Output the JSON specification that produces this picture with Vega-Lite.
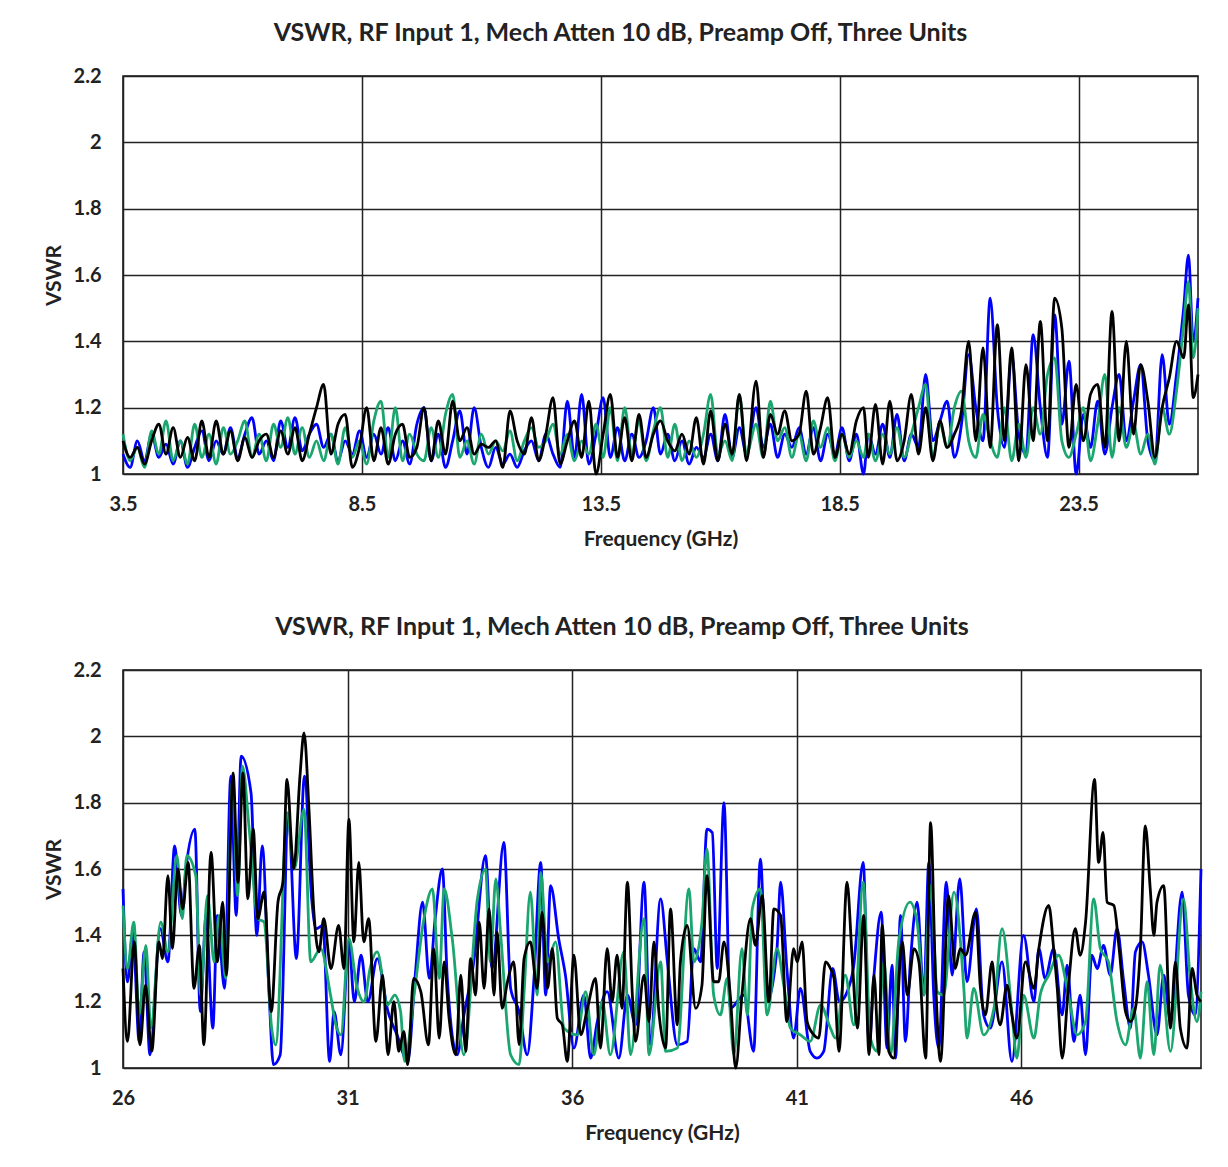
{
"$schema":"https://vega.github.io/schema/vega-lite/v6.json",
"background":"white",
"padding":{"left":42,"top":20,"right":5,"bottom":5},
"spacing":64,
"config":{
"font":"Lato",
"view":{"stroke":"#111","strokeWidth":1.5},
"axis":{"labelFont":"Lato","labelFontWeight":"bold","labelFontSize":20,"labelColor":"#222","labelFlush":false,"titleFont":"Lato","titleFontWeight":"bold","titleFontSize":21,"titleColor":"#222","grid":true,"gridColor":"#222","gridWidth":1.5,"gridOpacity":1,"ticks":false,"domain":false},
"title":{"font":"Lato","fontWeight":"bold","fontSize":25,"color":"#222"},
"line":{"strokeWidth":2.8,"interpolate":"monotone","clip":true}
},
"datasets":{
"top":[
{"f":3.5,"b":1.06,"g":1.12,"k":1.1},{"f":3.65,"b":1.02,"g":1.04,"k":1.05},{"f":3.8,"b":1.1,"g":1.08,"k":1.08},{"f":3.95,"b":1.04,"g":1.02,"k":1.03},{"f":4.1,"b":1.12,"g":1.13,"k":1.1},{"f":4.25,"b":1.05,"g":1.06,"k":1.15},{"f":4.4,"b":1.09,"g":1.16,"k":1.06},{"f":4.55,"b":1.03,"g":1.04,"k":1.14},{"f":4.7,"b":1.1,"g":1.1,"k":1.05},{"f":4.85,"b":1.02,"g":1.03,"k":1.11},
{"f":5.0,"b":1.08,"g":1.15,"k":1.04},{"f":5.15,"b":1.13,"g":1.05,"k":1.16},{"f":5.3,"b":1.04,"g":1.12,"k":1.05},{"f":5.45,"b":1.1,"g":1.03,"k":1.16},{"f":5.6,"b":1.06,"g":1.14,"k":1.06},{"f":5.75,"b":1.14,"g":1.06,"k":1.13},{"f":5.9,"b":1.05,"g":1.1,"k":1.04},{"f":6.05,"b":1.12,"g":1.16,"k":1.11},{"f":6.2,"b":1.17,"g":1.05,"k":1.05},{"f":6.35,"b":1.06,"g":1.12,"k":1.1},
{"f":6.5,"b":1.1,"g":1.04,"k":1.12},{"f":6.65,"b":1.04,"g":1.15,"k":1.05},{"f":6.8,"b":1.16,"g":1.08,"k":1.13},{"f":6.95,"b":1.08,"g":1.17,"k":1.06},{"f":7.1,"b":1.17,"g":1.06,"k":1.14},{"f":7.25,"b":1.07,"g":1.14,"k":1.04},{"f":7.4,"b":1.12,"g":1.05,"k":1.12},{"f":7.55,"b":1.15,"g":1.1,"k":1.2},{"f":7.7,"b":1.08,"g":1.04,"k":1.27},{"f":7.85,"b":1.12,"g":1.12,"k":1.06},
{"f":8.0,"b":1.04,"g":1.03,"k":1.15},{"f":8.15,"b":1.1,"g":1.14,"k":1.18},{"f":8.3,"b":1.06,"g":1.05,"k":1.02},{"f":8.45,"b":1.13,"g":1.1,"k":1.08},{"f":8.6,"b":1.05,"g":1.03,"k":1.2},{"f":8.75,"b":1.12,"g":1.16,"k":1.04},{"f":8.9,"b":1.06,"g":1.22,"k":1.14},{"f":9.05,"b":1.14,"g":1.05,"k":1.03},{"f":9.2,"b":1.04,"g":1.2,"k":1.12},{"f":9.35,"b":1.1,"g":1.04,"k":1.15},
{"f":9.5,"b":1.03,"g":1.12,"k":1.05},{"f":9.65,"b":1.15,"g":1.06,"k":1.08},{"f":9.8,"b":1.2,"g":1.04,"k":1.2},{"f":9.95,"b":1.04,"g":1.14,"k":1.04},{"f":10.1,"b":1.12,"g":1.05,"k":1.16},{"f":10.25,"b":1.02,"g":1.18,"k":1.06},{"f":10.4,"b":1.1,"g":1.24,"k":1.22},{"f":10.55,"b":1.19,"g":1.05,"k":1.1},{"f":10.7,"b":1.06,"g":1.1,"k":1.14},{"f":10.85,"b":1.2,"g":1.03,"k":1.06},
{"f":11.0,"b":1.08,"g":1.12,"k":1.09},{"f":11.15,"b":1.02,"g":1.06,"k":1.08},{"f":11.3,"b":1.08,"g":1.1,"k":1.1},{"f":11.45,"b":1.03,"g":1.07,"k":1.02},{"f":11.6,"b":1.06,"g":1.13,"k":1.19},{"f":11.75,"b":1.02,"g":1.04,"k":1.1},{"f":11.9,"b":1.07,"g":1.1,"k":1.06},{"f":12.05,"b":1.1,"g":1.14,"k":1.17},{"f":12.2,"b":1.04,"g":1.08,"k":1.04},{"f":12.35,"b":1.12,"g":1.1,"k":1.12},
{"f":12.5,"b":1.06,"g":1.15,"k":1.23},{"f":12.65,"b":1.02,"g":1.06,"k":1.03},{"f":12.8,"b":1.22,"g":1.12,"k":1.1},{"f":12.95,"b":1.05,"g":1.04,"k":1.16},{"f":13.1,"b":1.24,"g":1.1,"k":1.05},{"f":13.25,"b":1.03,"g":1.06,"k":1.22},{"f":13.4,"b":1.12,"g":1.15,"k":1.0},{"f":13.55,"b":1.23,"g":1.05,"k":1.12},{"f":13.7,"b":1.05,"g":1.2,"k":1.24},{"f":13.85,"b":1.14,"g":1.04,"k":1.05},
{"f":14.0,"b":1.04,"g":1.2,"k":1.17},{"f":14.15,"b":1.12,"g":1.06,"k":1.04},{"f":14.3,"b":1.05,"g":1.16,"k":1.18},{"f":14.45,"b":1.1,"g":1.04,"k":1.05},{"f":14.6,"b":1.2,"g":1.13,"k":1.12},{"f":14.75,"b":1.06,"g":1.2,"k":1.16},{"f":14.9,"b":1.12,"g":1.05,"k":1.1},{"f":15.05,"b":1.04,"g":1.15,"k":1.07},{"f":15.2,"b":1.1,"g":1.04,"k":1.12},{"f":15.35,"b":1.03,"g":1.1,"k":1.06},
{"f":15.5,"b":1.08,"g":1.05,"k":1.17},{"f":15.65,"b":1.05,"g":1.12,"k":1.03},{"f":15.8,"b":1.12,"g":1.24,"k":1.19},{"f":15.95,"b":1.04,"g":1.06,"k":1.04},{"f":16.1,"b":1.18,"g":1.1,"k":1.15},{"f":16.25,"b":1.05,"g":1.04,"k":1.06},{"f":16.4,"b":1.14,"g":1.24,"k":1.24},{"f":16.55,"b":1.06,"g":1.06,"k":1.04},{"f":16.75,"b":1.2,"g":1.15,"k":1.28},{"f":16.9,"b":1.08,"g":1.05,"k":1.05},
{"f":17.05,"b":1.15,"g":1.22,"k":1.18},{"f":17.2,"b":1.05,"g":1.1,"k":1.12},{"f":17.35,"b":1.12,"g":1.14,"k":1.19},{"f":17.5,"b":1.08,"g":1.05,"k":1.1},{"f":17.65,"b":1.14,"g":1.12,"k":1.12},{"f":17.8,"b":1.06,"g":1.04,"k":1.25},{"f":17.95,"b":1.14,"g":1.16,"k":1.06},{"f":18.1,"b":1.04,"g":1.08,"k":1.14},{"f":18.25,"b":1.12,"g":1.14,"k":1.23},{"f":18.4,"b":1.06,"g":1.04,"k":1.05},
{"f":18.55,"b":1.14,"g":1.12,"k":1.12},{"f":18.7,"b":1.04,"g":1.05,"k":1.06},{"f":18.85,"b":1.12,"g":1.1,"k":1.16},{"f":19.0,"b":1.0,"g":1.05,"k":1.2},{"f":19.1,"b":1.12,"g":1.12,"k":1.05},{"f":19.25,"b":1.06,"g":1.04,"k":1.21},{"f":19.4,"b":1.15,"g":1.12,"k":1.03},{"f":19.55,"b":1.05,"g":1.06,"k":1.22},{"f":19.7,"b":1.18,"g":1.14,"k":1.04},{"f":19.85,"b":1.04,"g":1.05,"k":1.1},
{"f":20.0,"b":1.12,"g":1.12,"k":1.24},{"f":20.15,"b":1.08,"g":1.2,"k":1.06},{"f":20.3,"b":1.3,"g":1.27,"k":1.2},{"f":20.45,"b":1.1,"g":1.05,"k":1.04},{"f":20.6,"b":1.16,"g":1.15,"k":1.16},{"f":20.75,"b":1.22,"g":1.08,"k":1.08},{"f":20.9,"b":1.05,"g":1.2,"k":1.12},{"f":21.05,"b":1.15,"g":1.25,"k":1.19},{"f":21.2,"b":1.36,"g":1.1,"k":1.4},{"f":21.35,"b":1.2,"g":1.05,"k":1.1},
{"f":21.5,"b":1.1,"g":1.18,"k":1.38},{"f":21.65,"b":1.53,"g":1.1,"k":1.08},{"f":21.8,"b":1.2,"g":1.05,"k":1.45},{"f":21.95,"b":1.08,"g":1.2,"k":1.1},{"f":22.1,"b":1.36,"g":1.04,"k":1.38},{"f":22.25,"b":1.12,"g":1.15,"k":1.04},{"f":22.4,"b":1.06,"g":1.05,"k":1.33},{"f":22.55,"b":1.42,"g":1.2,"k":1.1},{"f":22.7,"b":1.2,"g":1.12,"k":1.46},{"f":22.85,"b":1.05,"g":1.3,"k":1.1},
{"f":23.0,"b":1.48,"g":1.35,"k":1.53},{"f":23.15,"b":1.15,"g":1.1,"k":1.44},{"f":23.3,"b":1.34,"g":1.05,"k":1.08},{"f":23.45,"b":1.0,"g":1.12,"k":1.27},{"f":23.6,"b":1.18,"g":1.2,"k":1.1},{"f":23.75,"b":1.08,"g":1.04,"k":1.24},{"f":23.9,"b":1.22,"g":1.15,"k":1.27},{"f":24.05,"b":1.06,"g":1.3,"k":1.08},{"f":24.2,"b":1.2,"g":1.05,"k":1.49},{"f":24.35,"b":1.3,"g":1.2,"k":1.1},
{"f":24.5,"b":1.1,"g":1.08,"k":1.4},{"f":24.65,"b":1.22,"g":1.15,"k":1.12},{"f":24.8,"b":1.33,"g":1.06,"k":1.33},{"f":24.95,"b":1.1,"g":1.12,"k":1.22},{"f":25.1,"b":1.04,"g":1.03,"k":1.05},{"f":25.25,"b":1.36,"g":1.2,"k":1.2},{"f":25.4,"b":1.15,"g":1.12,"k":1.29},{"f":25.55,"b":1.3,"g":1.25,"k":1.4},{"f":25.7,"b":1.5,"g":1.45,"k":1.35},{"f":25.8,"b":1.66,"g":1.58,"k":1.51},
{"f":25.9,"b":1.4,"g":1.35,"k":1.23},{"f":26.0,"b":1.53,"g":1.5,"k":1.3}
],
"bb":[
{"f":26.0,"v":1.54},{"f":26.1,"v":1.26},{"f":26.22,"v":1.41},{"f":26.36,"v":1.08},{"f":26.47,"v":1.35},{"f":26.6,"v":1.04},{"f":26.83,"v":1.42},{"f":27.0,"v":1.32},{"f":27.15,"v":1.67},{"f":27.3,"v":1.46},{"f":27.4,"v":1.6},{"f":27.6,"v":1.72},{"f":27.72,"v":1.17},{"f":27.85,"v":1.46},{"f":28.0,"v":1.12},{"f":28.1,"v":1.46},{"f":28.26,"v":1.24},{"f":28.4,"v":1.88},{"f":28.52,"v":1.46},{"f":28.63,"v":1.94},{"f":28.85,"v":1.83},{"f":28.98,"v":1.4},{"f":29.1,"v":1.67},{"f":29.25,"v":1.23},{"f":29.35,"v":1.01},{"f":29.5,"v":1.04},{"f":29.68,"v":1.76},{"f":29.86,"v":1.33},{"f":30.04,"v":1.88},{"f":30.2,"v":1.51},{"f":30.3,"v":1.42},{"f":30.45,"v":1.43},{"f":30.6,"v":1.02},{"f":30.7,"v":1.17},{"f":30.85,"v":1.04},{"f":31.03,"v":1.38},{"f":31.15,"v":1.2},{"f":31.3,"v":1.34},{"f":31.45,"v":1.2},{"f":31.66,"v":1.33},{"f":31.9,"v":1.17},{"f":32.1,"v":1.1},{"f":32.34,"v":1.02},{"f":32.5,"v":1.27},{"f":32.67,"v":1.5},{"f":32.82,"v":1.27},{"f":32.95,"v":1.45},{"f":33.11,"v":1.6},{"f":33.22,"v":1.27},{"f":33.44,"v":1.04},{"f":33.59,"v":1.16},{"f":33.81,"v":1.32},{"f":34.07,"v":1.64},{"f":34.22,"v":1.3},{"f":34.48,"v":1.68},{"f":34.63,"v":1.24},{"f":34.82,"v":1.17},{"f":35.0,"v":1.04},{"f":35.15,"v":1.27},{"f":35.3,"v":1.62},{"f":35.41,"v":1.22},{"f":35.52,"v":1.55},{"f":35.7,"v":1.39},{"f":35.85,"v":1.28},{"f":36.04,"v":1.06},{"f":36.26,"v":1.22},{"f":36.41,"v":1.03},{"f":36.56,"v":1.14},{"f":36.78,"v":1.23},{"f":37.04,"v":1.03},{"f":37.23,"v":1.22},{"f":37.41,"v":1.13},{"f":37.6,"v":1.56},{"f":37.74,"v":1.07},{"f":37.97,"v":1.51},{"f":38.12,"v":1.32},{"f":38.34,"v":1.07},{"f":38.56,"v":1.08},{"f":38.71,"v":1.36},{"f":38.86,"v":1.32},{"f":39.0,"v":1.72},{"f":39.12,"v":1.71},{"f":39.23,"v":1.3},{"f":39.38,"v":1.8},{"f":39.52,"v":1.18},{"f":39.82,"v":1.22},{"f":40.04,"v":1.05},{"f":40.19,"v":1.63},{"f":40.34,"v":1.2},{"f":40.56,"v":1.36},{"f":40.64,"v":1.56},{"f":40.78,"v":1.3},{"f":40.93,"v":1.09},{"f":41.08,"v":1.24},{"f":41.3,"v":1.05},{"f":41.45,"v":1.03},{"f":41.6,"v":1.05},{"f":41.8,"v":1.3},{"f":41.95,"v":1.2},{"f":42.09,"v":1.22},{"f":42.27,"v":1.31},{"f":42.48,"v":1.62},{"f":42.61,"v":1.07},{"f":42.72,"v":1.28},{"f":42.88,"v":1.47},{"f":43.01,"v":1.06},{"f":43.12,"v":1.31},{"f":43.2,"v":1.03},{"f":43.31,"v":1.46},{"f":43.42,"v":1.08},{"f":43.53,"v":1.32},{"f":43.68,"v":1.5},{"f":43.83,"v":1.22},{"f":43.94,"v":1.62},{"f":44.05,"v":1.22},{"f":44.16,"v":1.06},{"f":44.33,"v":1.56},{"f":44.46,"v":1.28},{"f":44.63,"v":1.57},{"f":44.79,"v":1.26},{"f":45.0,"v":1.48},{"f":45.16,"v":1.16},{"f":45.31,"v":1.12},{"f":45.57,"v":1.32},{"f":45.79,"v":1.02},{"f":46.05,"v":1.4},{"f":46.28,"v":1.2},{"f":46.39,"v":1.36},{"f":46.53,"v":1.27},{"f":46.72,"v":1.36},{"f":46.91,"v":1.16},{"f":47.02,"v":1.31},{"f":47.17,"v":1.08},{"f":47.31,"v":1.22},{"f":47.43,"v":1.04},{"f":47.57,"v":1.34},{"f":47.69,"v":1.3},{"f":47.83,"v":1.37},{"f":47.98,"v":1.28},{"f":48.13,"v":1.42},{"f":48.28,"v":1.26},{"f":48.43,"v":1.12},{"f":48.54,"v":1.35},{"f":48.69,"v":1.38},{"f":48.83,"v":1.28},{"f":49.02,"v":1.1},{"f":49.17,"v":1.28},{"f":49.32,"v":1.14},{"f":49.58,"v":1.53},{"f":49.72,"v":1.22},{"f":49.87,"v":1.16},{"f":50.0,"v":1.6}
],
"bg":[
{"f":26.0,"v":1.49},{"f":26.1,"v":1.3},{"f":26.24,"v":1.44},{"f":26.36,"v":1.16},{"f":26.51,"v":1.37},{"f":26.62,"v":1.12},{"f":26.84,"v":1.44},{"f":27.0,"v":1.35},{"f":27.2,"v":1.64},{"f":27.32,"v":1.45},{"f":27.42,"v":1.64},{"f":27.62,"v":1.58},{"f":27.73,"v":1.22},{"f":27.88,"v":1.52},{"f":28.03,"v":1.32},{"f":28.14,"v":1.46},{"f":28.29,"v":1.27},{"f":28.44,"v":1.87},{"f":28.55,"v":1.52},{"f":28.66,"v":1.91},{"f":28.81,"v":1.72},{"f":29.0,"v":1.45},{"f":29.14,"v":1.44},{"f":29.31,"v":1.12},{"f":29.4,"v":1.07},{"f":29.66,"v":1.77},{"f":29.81,"v":1.6},{"f":30.03,"v":1.78},{"f":30.18,"v":1.32},{"f":30.4,"v":1.36},{"f":30.62,"v":1.22},{"f":30.74,"v":1.13},{"f":30.85,"v":1.1},{"f":31.03,"v":1.39},{"f":31.2,"v":1.25},{"f":31.37,"v":1.2},{"f":31.5,"v":1.3},{"f":31.66,"v":1.35},{"f":31.89,"v":1.19},{"f":32.05,"v":1.22},{"f":32.18,"v":1.17},{"f":32.27,"v":1.02},{"f":32.48,"v":1.22},{"f":32.7,"v":1.45},{"f":32.89,"v":1.54},{"f":33.04,"v":1.27},{"f":33.15,"v":1.54},{"f":33.33,"v":1.39},{"f":33.59,"v":1.04},{"f":33.89,"v":1.51},{"f":34.07,"v":1.6},{"f":34.18,"v":1.32},{"f":34.3,"v":1.57},{"f":34.41,"v":1.4},{"f":34.63,"v":1.04},{"f":34.82,"v":1.01},{"f":34.93,"v":1.23},{"f":35.07,"v":1.53},{"f":35.22,"v":1.22},{"f":35.3,"v":1.59},{"f":35.45,"v":1.32},{"f":35.63,"v":1.38},{"f":35.82,"v":1.12},{"f":36.11,"v":1.1},{"f":36.3,"v":1.23},{"f":36.48,"v":1.04},{"f":36.67,"v":1.2},{"f":36.85,"v":1.04},{"f":37.15,"v":1.35},{"f":37.3,"v":1.04},{"f":37.6,"v":1.45},{"f":37.71,"v":1.04},{"f":37.97,"v":1.32},{"f":38.08,"v":1.05},{"f":38.34,"v":1.06},{"f":38.6,"v":1.54},{"f":38.71,"v":1.32},{"f":38.89,"v":1.44},{"f":39.0,"v":1.66},{"f":39.15,"v":1.22},{"f":39.3,"v":1.16},{"f":39.45,"v":1.27},{"f":39.6,"v":1.04},{"f":39.78,"v":1.36},{"f":39.9,"v":1.16},{"f":40.01,"v":1.48},{"f":40.19,"v":1.54},{"f":40.34,"v":1.16},{"f":40.56,"v":1.36},{"f":40.71,"v":1.25},{"f":40.86,"v":1.12},{"f":41.08,"v":1.1},{"f":41.3,"v":1.08},{"f":41.53,"v":1.19},{"f":41.75,"v":1.12},{"f":41.86,"v":1.09},{"f":42.08,"v":1.28},{"f":42.27,"v":1.13},{"f":42.48,"v":1.56},{"f":42.64,"v":1.09},{"f":42.79,"v":1.05},{"f":42.94,"v":1.32},{"f":43.09,"v":1.04},{"f":43.27,"v":1.38},{"f":43.52,"v":1.5},{"f":43.68,"v":1.44},{"f":43.83,"v":1.22},{"f":43.98,"v":1.55},{"f":44.13,"v":1.23},{"f":44.27,"v":1.22},{"f":44.5,"v":1.53},{"f":44.72,"v":1.24},{"f":44.79,"v":1.09},{"f":44.94,"v":1.24},{"f":45.16,"v":1.1},{"f":45.39,"v":1.18},{"f":45.57,"v":1.42},{"f":45.79,"v":1.17},{"f":45.9,"v":1.03},{"f":46.05,"v":1.22},{"f":46.28,"v":1.09},{"f":46.42,"v":1.22},{"f":46.61,"v":1.28},{"f":46.83,"v":1.34},{"f":47.05,"v":1.22},{"f":47.24,"v":1.1},{"f":47.43,"v":1.14},{"f":47.61,"v":1.51},{"f":47.76,"v":1.36},{"f":47.94,"v":1.32},{"f":48.13,"v":1.14},{"f":48.32,"v":1.07},{"f":48.5,"v":1.18},{"f":48.65,"v":1.03},{"f":48.8,"v":1.26},{"f":48.95,"v":1.04},{"f":49.09,"v":1.31},{"f":49.32,"v":1.05},{"f":49.61,"v":1.51},{"f":49.76,"v":1.27},{"f":49.91,"v":1.14},{"f":50.0,"v":1.23}
],
"bk":[
{"f":26.0,"v":1.3},{"f":26.1,"v":1.08},{"f":26.25,"v":1.38},{"f":26.38,"v":1.07},{"f":26.5,"v":1.25},{"f":26.64,"v":1.05},{"f":26.8,"v":1.38},{"f":26.88,"v":1.33},{"f":27.0,"v":1.58},{"f":27.1,"v":1.36},{"f":27.22,"v":1.6},{"f":27.33,"v":1.48},{"f":27.45,"v":1.62},{"f":27.58,"v":1.24},{"f":27.7,"v":1.37},{"f":27.8,"v":1.07},{"f":27.96,"v":1.65},{"f":28.1,"v":1.32},{"f":28.22,"v":1.5},{"f":28.3,"v":1.28},{"f":28.45,"v":1.89},{"f":28.56,"v":1.56},{"f":28.67,"v":1.89},{"f":28.78,"v":1.51},{"f":28.9,"v":1.72},{"f":29.0,"v":1.45},{"f":29.14,"v":1.53},{"f":29.3,"v":1.17},{"f":29.45,"v":1.5},{"f":29.56,"v":1.56},{"f":29.65,"v":1.87},{"f":29.8,"v":1.6},{"f":29.94,"v":1.88},{"f":30.03,"v":2.01},{"f":30.14,"v":1.78},{"f":30.25,"v":1.47},{"f":30.36,"v":1.35},{"f":30.47,"v":1.45},{"f":30.63,"v":1.3},{"f":30.8,"v":1.43},{"f":30.92,"v":1.3},{"f":31.03,"v":1.75},{"f":31.14,"v":1.38},{"f":31.25,"v":1.62},{"f":31.36,"v":1.38},{"f":31.47,"v":1.45},{"f":31.63,"v":1.08},{"f":31.78,"v":1.28},{"f":31.9,"v":1.04},{"f":32.03,"v":1.2},{"f":32.14,"v":1.05},{"f":32.25,"v":1.11},{"f":32.34,"v":1.01},{"f":32.47,"v":1.27},{"f":32.63,"v":1.23},{"f":32.8,"v":1.07},{"f":32.92,"v":1.36},{"f":33.04,"v":1.09},{"f":33.15,"v":1.32},{"f":33.26,"v":1.15},{"f":33.41,"v":1.04},{"f":33.52,"v":1.28},{"f":33.63,"v":1.05},{"f":33.74,"v":1.33},{"f":33.85,"v":1.22},{"f":33.93,"v":1.44},{"f":34.04,"v":1.24},{"f":34.15,"v":1.48},{"f":34.26,"v":1.22},{"f":34.33,"v":1.41},{"f":34.44,"v":1.18},{"f":34.56,"v":1.26},{"f":34.7,"v":1.32},{"f":34.82,"v":1.07},{"f":34.93,"v":1.33},{"f":35.07,"v":1.38},{"f":35.22,"v":1.24},{"f":35.33,"v":1.47},{"f":35.45,"v":1.24},{"f":35.56,"v":1.36},{"f":35.67,"v":1.15},{"f":35.78,"v":1.13},{"f":35.89,"v":1.02},{"f":36.04,"v":1.34},{"f":36.19,"v":1.1},{"f":36.34,"v":1.18},{"f":36.52,"v":1.27},{"f":36.63,"v":1.06},{"f":36.78,"v":1.36},{"f":36.89,"v":1.2},{"f":37.0,"v":1.34},{"f":37.11,"v":1.18},{"f":37.23,"v":1.56},{"f":37.34,"v":1.22},{"f":37.41,"v":1.08},{"f":37.6,"v":1.28},{"f":37.71,"v":1.14},{"f":37.82,"v":1.38},{"f":37.93,"v":1.17},{"f":38.08,"v":1.06},{"f":38.19,"v":1.48},{"f":38.34,"v":1.13},{"f":38.41,"v":1.32},{"f":38.56,"v":1.43},{"f":38.75,"v":1.18},{"f":38.89,"v":1.25},{"f":39.0,"v":1.58},{"f":39.15,"v":1.26},{"f":39.26,"v":1.26},{"f":39.38,"v":1.38},{"f":39.52,"v":1.22},{"f":39.64,"v":1.0},{"f":39.78,"v":1.22},{"f":39.97,"v":1.45},{"f":40.08,"v":1.37},{"f":40.23,"v":1.52},{"f":40.38,"v":1.2},{"f":40.49,"v":1.48},{"f":40.64,"v":1.46},{"f":40.78,"v":1.14},{"f":40.93,"v":1.36},{"f":41.01,"v":1.32},{"f":41.12,"v":1.38},{"f":41.23,"v":1.14},{"f":41.38,"v":1.1},{"f":41.49,"v":1.09},{"f":41.64,"v":1.32},{"f":41.75,"v":1.3},{"f":41.83,"v":1.27},{"f":41.94,"v":1.05},{"f":42.12,"v":1.56},{"f":42.23,"v":1.34},{"f":42.35,"v":1.12},{"f":42.49,"v":1.46},{"f":42.61,"v":1.04},{"f":42.72,"v":1.28},{"f":42.83,"v":1.04},{"f":42.9,"v":1.43},{"f":43.05,"v":1.05},{"f":43.16,"v":1.03},{"f":43.35,"v":1.38},{"f":43.46,"v":1.22},{"f":43.61,"v":1.36},{"f":43.72,"v":1.32},{"f":43.87,"v":1.03},{"f":43.98,"v":1.74},{"f":44.09,"v":1.27},{"f":44.2,"v":1.02},{"f":44.38,"v":1.52},{"f":44.53,"v":1.3},{"f":44.64,"v":1.36},{"f":44.76,"v":1.34},{"f":44.98,"v":1.47},{"f":45.09,"v":1.24},{"f":45.2,"v":1.16},{"f":45.35,"v":1.32},{"f":45.42,"v":1.22},{"f":45.53,"v":1.13},{"f":45.68,"v":1.25},{"f":45.79,"v":1.16},{"f":45.9,"v":1.09},{"f":46.09,"v":1.32},{"f":46.28,"v":1.24},{"f":46.39,"v":1.36},{"f":46.61,"v":1.49},{"f":46.72,"v":1.36},{"f":46.8,"v":1.24},{"f":46.91,"v":1.03},{"f":47.05,"v":1.25},{"f":47.2,"v":1.42},{"f":47.31,"v":1.34},{"f":47.43,"v":1.44},{"f":47.63,"v":1.87},{"f":47.72,"v":1.62},{"f":47.82,"v":1.71},{"f":47.91,"v":1.5},{"f":48.06,"v":1.49},{"f":48.17,"v":1.37},{"f":48.32,"v":1.17},{"f":48.43,"v":1.14},{"f":48.54,"v":1.18},{"f":48.65,"v":1.36},{"f":48.76,"v":1.73},{"f":48.87,"v":1.54},{"f":48.95,"v":1.4},{"f":49.02,"v":1.5},{"f":49.17,"v":1.55},{"f":49.32,"v":1.12},{"f":49.43,"v":1.32},{"f":49.54,"v":1.12},{"f":49.69,"v":1.06},{"f":49.8,"v":1.3},{"f":49.91,"v":1.22},{"f":50.0,"v":1.2}
]
},
"vconcat":[
{
"width":1075,"height":398,
"title":{"text":"VSWR, RF Input 1, Mech Atten 10 dB, Preamp Off, Three Units","offset":20,"dx":-40},
"data":{"name":"top"},
"encoding":{"x":{"field":"f","type":"quantitative","scale":{"domain":[3.5,26],"nice":false,"zero":false},"axis":{"values":[3.5,8.5,13.5,18.5,23.5],"title":"Frequency (GHz)","format":".1f","labelPadding":20,"titlePadding":14}}},
"layer":[
{"mark":{"type":"line","color":"#0000ff"},"encoding":{"y":{"field":"b","type":"quantitative","scale":{"domain":[1,2.2],"nice":false,"zero":false},"axis":{"values":[1,1.2,1.4,1.6,1.8,2,2.2],"title":"VSWR","format":"~g","labelPadding":22,"titlePadding":9}}}},
{"mark":{"type":"line","color":"#1aa66e"},"encoding":{"y":{"field":"g","type":"quantitative","scale":{"domain":[1,2.2],"nice":false,"zero":false},"axis":{"values":[1,1.2,1.4,1.6,1.8,2,2.2],"title":"VSWR","format":"~g","labelPadding":22,"titlePadding":9}}}},
{"mark":{"type":"line","color":"#000000"},"encoding":{"y":{"field":"k","type":"quantitative","scale":{"domain":[1,2.2],"nice":false,"zero":false},"axis":{"values":[1,1.2,1.4,1.6,1.8,2,2.2],"title":"VSWR","format":"~g","labelPadding":22,"titlePadding":9}}}}
]
},
{
"width":1078,"height":398,
"title":{"text":"VSWR, RF Input 1, Mech Atten 10 dB, Preamp Off, Three Units","offset":20,"dx":-40},
"encoding":{"x":{"field":"f","type":"quantitative","scale":{"domain":[26,50],"nice":false,"zero":false},"axis":{"values":[26,31,36,41,46],"title":"Frequency (GHz)","format":"~g","labelPadding":20,"titlePadding":14}},
"y":{"field":"v","type":"quantitative","scale":{"domain":[1,2.2],"nice":false,"zero":false},"axis":{"values":[1,1.2,1.4,1.6,1.8,2,2.2],"title":"VSWR","format":"~g","labelPadding":22,"titlePadding":9}}},
"layer":[
{"data":{"name":"bb"},"mark":{"type":"line","color":"#0000ff"}},
{"data":{"name":"bg"},"mark":{"type":"line","color":"#1aa66e"}},
{"data":{"name":"bk"},"mark":{"type":"line","color":"#000000"}}
]
}
]
}
